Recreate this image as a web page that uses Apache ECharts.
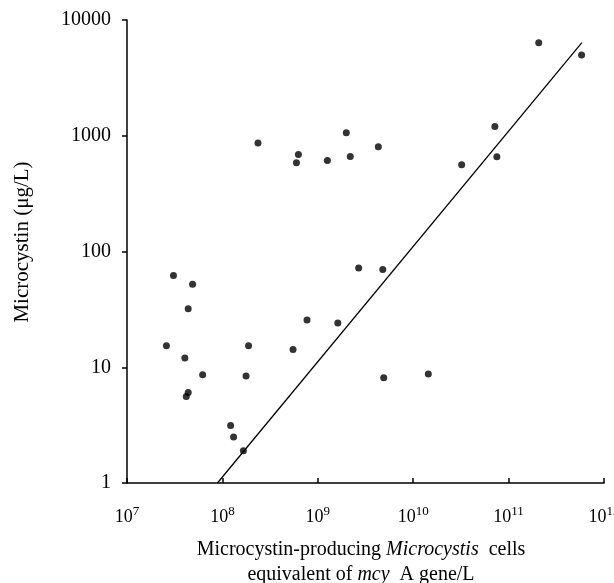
<!DOCTYPE html>
<html>
<head>
<meta charset="utf-8">
<script src="https://cdn.jsdelivr.net/npm/echarts@6/dist/echarts.min.js"></script>
<style>
  html, body { margin: 0; padding: 0; background: #fff; }
  #chart { width: 614px; height: 583px; }
</style>
</head>
<body>
<div id="chart"></div>
<script>
// mcyA gene copies per litre vs microcystin concentration
const cells = [
  3.07e7, 4.87e7, 4.38e7, 2.59e7, 1.88e8, 4.04e7, 6.21e7, 1.77e8, 4.38e7, 4.18e7,
  1.22e8, 1.31e8, 1.66e8,
  2.36e8, 6.26e8, 5.97e8, 1.26e9, 1.99e9, 2.19e9, 4.31e9,
  2.68e9, 4.80e9, 7.71e8, 1.62e9, 5.5e8, 4.91e9, 1.44e10,
  2.07e11, 5.82e11, 7.18e10, 7.53e10, 3.22e10
];
const microcystin = [
  62, 52, 32, 15.3, 15.3, 12, 8.6, 8.4, 6.05, 5.6,
  3.14, 2.5, 1.9,
  865, 690, 585, 610, 1060, 663, 805,
  72, 70, 25.6, 24.1, 14.2, 8.1, 8.75,
  6370, 4990, 1200, 660, 562
];
const trendX = [8.87e7, 5.86e11];
const trendY = [1, 6370];
const yTicks = [1, 10, 100, 1000, 10000];

const chart = echarts.init(document.getElementById("chart"));
const font = "Liberation Serif";

chart.setOption({
  animation: false,
  grid: { left: 127, right: 10, top: 20, bottom: 100, outerBoundsMode: "none", containLabel: false },
  xAxis: {
    type: "log",
    logBase: 10,
    min: 1e7,
    max: 1e12,
    splitLine: { show: false },
    axisLine: { lineStyle: { color: "#000", width: 1.5 } },
    axisTick: { inside: true, length: 5, lineStyle: { color: "#000", width: 1.5 } },
    minorTick: { show: false },
    axisLabel: {
      margin: 22,
      color: "#000",
      fontFamily: font,
      fontSize: 18,
      formatter: (v) => "10{sup|" + Math.round(Math.log10(v)) + "}",
      rich: {
        sup: { fontFamily: font, fontSize: 13, color: "#000", padding: [0, 0, 12, 0] },
      },
    },
    name: "Microcystin-producing {i|Microcystis}  cells\nequivalent of {i|mcy}  A gene/L",
    nameLocation: "middle",
    nameGap: 54,
    nameTextStyle: {
      color: "#000",
      fontFamily: font,
      fontSize: 20,
      lineHeight: 25,
      padding: [0, 9, 0, 0],
      rich: {
        i: { fontFamily: font, fontSize: 20, fontStyle: "italic", color: "#000", lineHeight: 25 },
      },
    },
  },
  yAxis: {
    type: "log",
    logBase: 10,
    min: 1,
    max: 10000,
    splitLine: { show: false },
    axisLine: { show: true, lineStyle: { color: "#000", width: 1.5 } },
    axisTick: { show: true, inside: false, length: 5, lineStyle: { color: "#000", width: 1.5 } },
    axisLabel: {
      margin: 16,
      color: "#000",
      fontFamily: font,
      fontSize: 20,
      formatter: (v) => String(yTicks.find((t) => Math.abs(t - v) / t < 1e-6) ?? v),
    },
    name: "Microcystin (μg/L)",
    nameLocation: "middle",
    nameGap: 94,
    nameTextStyle: { color: "#000", fontFamily: font, fontSize: 21, padding: [0, 0, 0, 19] },
  },
  series: [
    {
      type: "scatter",
      symbol: "circle",
      symbolSize: 7,
      itemStyle: { color: "#000" },
      data: cells.map((c, i) => [c, microcystin[i]]),
    },
    {
      type: "line",
      showSymbol: false,
      symbol: "none",
      lineStyle: { color: "#000", width: 1.3 },
      data: trendX.map((x, i) => [x, trendY[i]]),
    },
  ],
});
</script>
</body>
</html>
